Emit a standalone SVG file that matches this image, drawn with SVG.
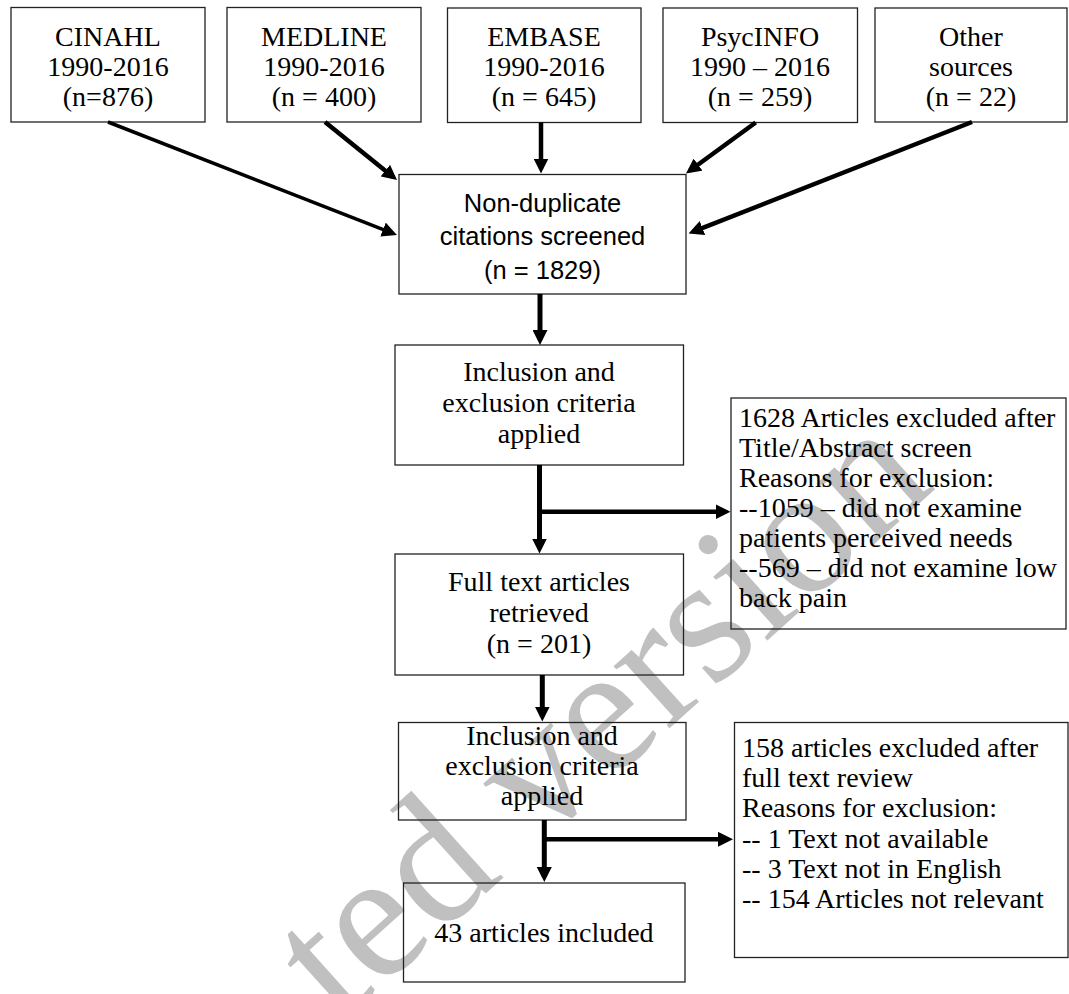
<svg xmlns="http://www.w3.org/2000/svg" width="1069" height="994" viewBox="0 0 1069 994">
<style>
.box{fill:none;stroke:#222;stroke-width:1.3}
.t{font-family:"Liberation Serif","Times New Roman",serif;font-size:28px;fill:#000;text-anchor:middle}
.tl{font-family:"Liberation Serif","Times New Roman",serif;font-size:28px;fill:#000}
.s{font-family:"Liberation Sans",Arial,sans-serif;font-size:25.5px;fill:#000;text-anchor:middle}
.c{fill:none;stroke:#000;marker-end:url(#ah)}
.wm{font-family:"Liberation Serif","Times New Roman",serif;font-size:182px;fill:#c0c0c0}
</style>
<defs>
<marker id="ah" markerUnits="userSpaceOnUse" markerWidth="15" markerHeight="15" refX="10" refY="7.5" orient="auto">
<path d="M0,0 L15,7.5 L0,15 z" fill="#000"/>
</marker>
</defs>
<rect width="1069" height="994" fill="#fff"/>
<text class="wm" x="340" y="1025" transform="rotate(-42 340 1025)">ted version</text>

<g id="cinahl"><rect class="box" x="11" y="7.5" width="194" height="114.5"/>
<text class="t" x="108" y="45.5">CINAHL</text><text class="t" x="108" y="75.5">1990-2016</text><text class="t" x="108" y="105.5">(n=876)</text></g>
<g id="medline"><rect class="box" x="227" y="7.5" width="194" height="114.5"/>
<text class="t" x="324" y="45.5">MEDLINE</text><text class="t" x="324" y="75.5">1990-2016</text><text class="t" x="324" y="105.5">(n = 400)</text></g>
<g id="embase"><rect class="box" x="447.5" y="8" width="193.5" height="114.5"/>
<text class="t" x="544" y="45.5">EMBASE</text><text class="t" x="544" y="75.5">1990-2016</text><text class="t" x="544" y="105.5">(n = 645)</text></g>
<g id="psycinfo"><rect class="box" x="663" y="8" width="194.5" height="114.5"/>
<text class="t" x="760" y="45.5">PsycINFO</text><text class="t" x="760" y="75.5">1990 – 2016</text><text class="t" x="760" y="105.5">(n = 259)</text></g>
<g id="other"><rect class="box" x="875" y="8" width="192" height="114"/>
<text class="t" x="971" y="45.5">Other</text><text class="t" x="971" y="75.5">sources</text><text class="t" x="971" y="105.5">(n = 22)</text></g>

<g id="nondup"><rect class="box" x="399" y="174.5" width="287" height="119.5"/>
<text class="s" x="542.5" y="211.5">Non-duplicate</text><text class="s" x="542.5" y="245">citations screened</text><text class="s" x="542.5" y="278.5">(n = 1829)</text></g>
<g id="incl1"><rect class="box" x="395" y="345" width="288.5" height="120"/>
<text class="t" x="539" y="381">Inclusion and</text><text class="t" x="539" y="412">exclusion criteria</text><text class="t" x="539" y="443">applied</text></g>
<g id="excl1"><rect class="box" x="731" y="398" width="335" height="231"/>
<text class="tl" x="739" y="427">1628 Articles excluded after</text>
<text class="tl" x="739" y="457">Title/Abstract screen</text>
<text class="tl" x="739" y="487">Reasons for exclusion:</text>
<text class="tl" x="739" y="517">--1059 – did not examine</text>
<text class="tl" x="739" y="547">patients perceived needs</text>
<text class="tl" x="739" y="577">--569 – did not examine low</text>
<text class="tl" x="739" y="607">back pain</text></g>
<g id="fulltext"><rect class="box" x="395" y="554" width="288.5" height="121"/>
<text class="t" x="539" y="591">Full text articles</text><text class="t" x="539" y="622">retrieved</text><text class="t" x="539" y="653">(n = 201)</text></g>
<g id="incl2"><rect class="box" x="398.5" y="722.5" width="287.5" height="97.5"/>
<text class="t" x="542" y="745">Inclusion and</text><text class="t" x="542" y="775">exclusion criteria</text><text class="t" x="542" y="805">applied</text></g>
<g id="excl2"><rect class="box" x="734.5" y="722.5" width="333.5" height="235"/>
<text class="tl" x="742" y="757">158 articles excluded after</text>
<text class="tl" x="742" y="787">full text review</text>
<text class="tl" x="742" y="817">Reasons for exclusion:</text>
<text class="tl" x="742" y="848">-- 1 Text not available</text>
<text class="tl" x="742" y="878">-- 3 Text not in English</text>
<text class="tl" x="742" y="908">-- 154 Articles not relevant</text></g>
<g id="final"><rect class="box" x="403.5" y="883" width="281.5" height="99"/>
<text class="t" x="544" y="942">43 articles included</text></g>

<g id="connectors">
<line class="c" x1="108" y1="122" x2="392.3" y2="233.2" stroke-width="3.5"/>
<line class="c" x1="325" y1="122" x2="393.1" y2="176.9" stroke-width="4.5"/>
<line class="c" x1="541" y1="122.5" x2="541" y2="168.5" stroke-width="4.5"/>
<line class="c" x1="755.7" y1="122.5" x2="690" y2="170.5" stroke-width="4.5"/>
<line class="c" x1="972" y1="122" x2="693.2" y2="231.7" stroke-width="4.5"/>
<line class="c" x1="540" y1="294" x2="540" y2="340" stroke-width="5"/>
<line class="c" x1="539.5" y1="465" x2="539.5" y2="548.5" stroke-width="5"/>
<line class="c" x1="539.5" y1="511.7" x2="725.5" y2="511.7" stroke-width="4.5"/>
<line class="c" x1="542.3" y1="675" x2="542.3" y2="716.5" stroke-width="5"/>
<line class="c" x1="544.3" y1="820" x2="544.3" y2="877" stroke-width="5"/>
<line class="c" x1="544.3" y1="839.3" x2="728" y2="839.3" stroke-width="4.5"/>
</g>
</svg>
